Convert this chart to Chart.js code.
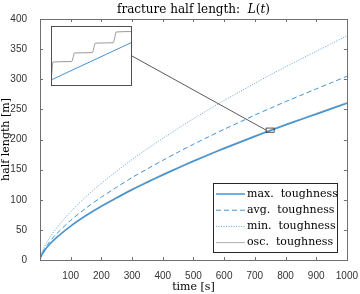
<!DOCTYPE html>
<html>
<head>
<meta charset="utf-8">
<script src="https://cdn.jsdelivr.net/npm/chart.js@4.4.1/dist/chart.umd.min.js"></script>
<style>
  body { margin: 0; background: #fff; }
  #wrap { position: relative; width: 360px; height: 294px; }
  #main { position: absolute; left: 0; top: 0; }
  #inset { position: absolute; left: 51px; top: 26px; }
</style>
</head>
<body>
<div id="wrap">
  <canvas id="main" width="360" height="294"></canvas>
  <canvas id="inset" width="81" height="60"></canvas>
</div>
<script>
// time [s]
const times = [0, 1, 5, 10, 25, 50, 100, 150, 200, 250, 300, 350, 400, 450, 500, 550, 600, 650, 700, 750, 800, 850, 900, 950, 1000];
// half length [m]
const maxTough = [0, 2.6, 7.6, 12.1, 22.2, 35.3, 56, 73.5, 89, 103, 116.6, 129, 141, 152.6, 163.8, 174.5, 185, 195, 205, 214.6, 224, 233, 242, 251, 260];
const avgTough = [0, 3.0, 8.9, 14.2, 26, 41.4, 65.7, 86.2, 104.4, 120.8, 136.8, 151.3, 165.4, 179, 192.1, 204.7, 217, 228.7, 240.5, 251.7, 262.8, 273.3, 283.9, 294.4, 305];
const minTough = [0, 3.7, 10.9, 17.3, 31.8, 50.5, 80.1, 105.2, 127.4, 147.4, 166.8, 184.6, 201.8, 218.4, 234.4, 249.7, 264.7, 279, 293.3, 307.1, 320.5, 333.4, 346.3, 359.2, 372];
const oscTough = [0, 3.5, 8.8, 13.4, 23.5, 36.6, 57.3, 74.8, 90.3, 104.3, 117.9, 130.3, 142.3, 153.9, 165.1, 175.8, 186.3, 196.3, 206.3, 215.9, 225.3, 234.3, 243.3, 252.3, 261.3];
const legendLabels = ['max.  toughness', 'avg.  toughness', 'min.  toughness', 'osc.  toughness'];

// zoomed window (inset)
const zoomX = [737, 763];
const zoomY = [212, 219];
const insetMaxT = [737, 763];
const insetMaxL = [212.7, 217.1];
const insetOscT = [737.1, 737.3, 737.6, 743.6, 744.1, 744.5, 750.3, 750.8, 751.2, 757.0, 757.5, 757.9, 763];
const insetOscL = [213.0, 213.6, 214.8, 214.85, 215.3, 215.85, 215.9, 216.5, 217.0, 217.05, 217.7, 218.3, 218.35];

const blue = '#4094D4';
const axisColor = '#707070';
const tickColor = '#333333';
const serif = '"DejaVu Serif", serif';
const sans = '"Liberation Sans", Arial, sans-serif';
const INSET = { left: 51, top: 26, w: 81, h: 60 };

const pts = (xs, ys) => xs.map((x, i) => ({ x: x, y: ys[i] }));

const frame = {
    id: 'frame',
    afterDatasetsDraw(chart) {
        const ctx = chart.ctx;
        const a = chart.chartArea;
        const xs = chart.scales.x, ys = chart.scales.y;
        ctx.save();
        // zoom box + connector
        const bx0 = xs.getPixelForValue(zoomX[0]), bx1 = xs.getPixelForValue(zoomX[1]);
        const by0 = ys.getPixelForValue(zoomY[1]), by1 = ys.getPixelForValue(zoomY[0]);
        ctx.strokeStyle = '#303030';
        ctx.lineWidth = 0.8;
        ctx.strokeRect(bx0, by0, bx1 - bx0, by1 - by0);
        ctx.beginPath();
        ctx.moveTo(INSET.left + INSET.w, INSET.top + INSET.h / 2);
        ctx.lineTo(bx0, (by0 + by1) / 2);
        ctx.stroke();

        // box and inward ticks
        ctx.strokeStyle = axisColor;
        ctx.lineWidth = 1;
        ctx.strokeRect(Math.round(a.left) + 0.5, Math.round(a.top) + 0.5, Math.round(a.right - a.left), Math.round(a.bottom - a.top));
        ctx.beginPath();
        xs.ticks.forEach(t => {
            const px = Math.round(xs.getPixelForValue(t.value)) + 0.5;
            ctx.moveTo(px, a.bottom); ctx.lineTo(px, a.bottom - 3);
            ctx.moveTo(px, a.top); ctx.lineTo(px, a.top + 3);
        });
        ys.ticks.forEach(t => {
            const py = Math.round(ys.getPixelForValue(t.value)) + 0.5;
            ctx.moveTo(a.left, py); ctx.lineTo(a.left + 3, py);
            ctx.moveTo(a.right, py); ctx.lineTo(a.right - 3, py);
        });
        ctx.stroke();

        // legend
        const L = { x: 213, y: 183, w: 124, h: 69 };
        ctx.fillStyle = '#fff';
        ctx.fillRect(L.x, L.y, L.w, L.h);
        ctx.strokeStyle = '#262626';
        ctx.strokeRect(L.x + 0.5, L.y + 0.5, L.w, L.h);
        ctx.font = '11px ' + serif;
        ctx.textBaseline = 'middle';
        chart.data.datasets.forEach((ds, i) => {
            const y = 194 + i * 16.2;
            ctx.save();
            ctx.strokeStyle = ds.borderColor;
            ctx.lineWidth = ds.borderWidth;
            ctx.setLineDash(ds.borderDash || []);
            ctx.beginPath();
            ctx.moveTo(216, y); ctx.lineTo(245, y);
            ctx.stroke();
            ctx.restore();
            ctx.fillStyle = '#000';
            ctx.textAlign = 'left';
            ctx.fillText(legendLabels[i], 247, y);
        });

        // title and axis labels
        ctx.fillStyle = '#000';
        ctx.textBaseline = 'alphabetic';
        const cx = (a.left + a.right) / 2;
        const parts = [['fracture half length:  ', ''], ['L', 'italic '], ['(', ''], ['t', 'italic '], [')', '']];
        let total = 0;
        parts.forEach(p => { ctx.font = p[1] + '12px ' + serif; total += ctx.measureText(p[0]).width; });
        let x = cx - total / 2;
        ctx.textAlign = 'left';
        parts.forEach(p => {
            ctx.font = p[1] + '12px ' + serif;
            ctx.fillText(p[0], x, 13);
            x += ctx.measureText(p[0]).width;
        });

        ctx.font = '11px ' + serif;
        ctx.textAlign = 'center';
        ctx.fillText('time [s]', cx, 290);
        ctx.save();
        ctx.translate(9, (a.top + a.bottom) / 2);
        ctx.rotate(-Math.PI / 2);
        ctx.fillText('half length [m]', 0, 0);
        ctx.restore();
        ctx.restore();
    }
};

new Chart(document.getElementById('main'), {
    type: 'line',
    data: {
        datasets: [
            { data: pts(times, maxTough), borderColor: blue, borderWidth: 1.5, pointRadius: 0, tension: 0.3 },
            { data: pts(times, avgTough), borderColor: blue, borderWidth: 1, borderDash: [5, 3], pointRadius: 0, tension: 0.3 },
            { data: pts(times, minTough), borderColor: '#5aa5dd', borderWidth: 1, borderDash: [1, 1.5], pointRadius: 0, tension: 0.3 },
            { data: pts(times, oscTough), borderColor: '#8c8c8c', borderWidth: 0.7, pointRadius: 0, tension: 0.3 }
        ]
    },
    options: {
        responsive: false,
        animation: false,
        devicePixelRatio: 1,
        layout: { padding: { left: 0, right: 13, top: 19, bottom: 0 } },
        plugins: { legend: { display: false }, tooltip: { enabled: false } },
        scales: {
            x: {
                type: 'linear', min: 0, max: 1000,
                grid: { display: false },
                border: { display: false },
                afterFit: s => { s.height = 34; },
                ticks: {
                    stepSize: 100, padding: 2, maxRotation: 0, autoSkip: false,
                    color: tickColor, font: { family: sans, size: 10 },
                    callback: v => v === 0 ? '' : v
                }
            },
            y: {
                min: 0, max: 400,
                grid: { display: false },
                border: { display: false },
                afterFit: s => { s.width = 40; },
                ticks: {
                    stepSize: 50, padding: 5,
                    color: tickColor, font: { family: sans, size: 10 }
                }
            }
        }
    },
    plugins: [frame]
});

const insetFrame = {
    id: 'insetFrame',
    beforeDraw(chart) {
        chart.ctx.fillStyle = '#fff';
        chart.ctx.fillRect(0, 0, chart.width, chart.height);
    },
    afterDraw(chart) {
        const ctx = chart.ctx;
        ctx.strokeStyle = '#505050';
        ctx.lineWidth = 1;
        ctx.strokeRect(0.5, 0.5, chart.width - 1, chart.height - 1);
    }
};

new Chart(document.getElementById('inset'), {
    type: 'line',
    data: {
        datasets: [
            { data: pts(insetMaxT, insetMaxL), borderColor: blue, borderWidth: 1, pointRadius: 0 },
            { data: pts(insetOscT, insetOscL), borderColor: '#9a9a9a', borderWidth: 1, pointRadius: 0, cubicInterpolationMode: 'monotone' }
        ]
    },
    options: {
        responsive: false,
        animation: false,
        devicePixelRatio: 1,
        layout: { padding: 0 },
        plugins: { legend: { display: false }, tooltip: { enabled: false } },
        scales: {
            x: { type: 'linear', display: false, min: zoomX[0], max: zoomX[1] },
            y: { display: false, min: zoomY[0], max: zoomY[1] }
        }
    },
    plugins: [insetFrame]
});
</script>
</body>
</html>
